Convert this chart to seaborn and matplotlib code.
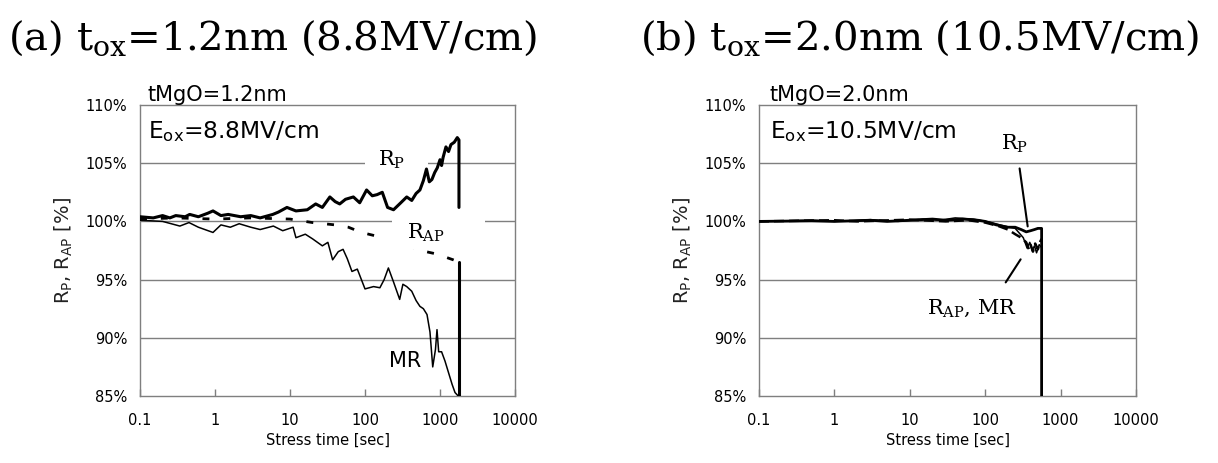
import numpy as np
import pandas as pd
import matplotlib
matplotlib.use("Agg")
import matplotlib.pyplot as plt
import seaborn as sns
from matplotlib.patches import Rectangle

# ---------------- data ----------------
# (a) tox = 1.2 nm
a_rp_t = [0.1, 0.15, 0.2, 0.25, 0.3, 0.4, 0.46, 0.6, 0.8, 0.94, 1.2, 1.5, 2.2, 3, 4, 5.9, 7, 9.1,
          12, 17, 22, 27, 34, 40, 46, 55, 70, 85, 105, 125, 145, 170, 200, 240, 300, 360, 420,
          480, 540, 600, 660, 720, 780, 850, 920, 1000, 1050, 1100, 1200, 1300, 1400, 1550,
          1700, 1790, 1790]
a_rp_v = [100.4, 100.3, 100.5, 100.3, 100.5, 100.4, 100.6, 100.4, 100.7, 100.9, 100.5, 100.6,
          100.4, 100.5, 100.3, 100.6, 100.8, 101.2, 100.9, 101.0, 101.5, 101.2, 102.1, 101.7,
          101.5, 101.9, 102.1, 101.6, 102.7, 102.2, 102.3, 102.5, 101.2, 101.0, 101.6, 102.1,
          101.8, 102.4, 102.7, 103.5, 104.5, 103.4, 103.6, 104.2, 104.6, 105.3, 104.8, 105.5,
          106.4, 106.0, 106.6, 106.8, 107.2, 107.0, 101.2]
a_rap_t = [0.1, 0.3, 1, 3, 10, 20, 40, 60, 90, 150, 650, 900, 1500, 1790]
a_rap_v = [100.2, 100.3, 100.2, 100.3, 100.2, 99.9, 99.7, 99.5, 99.05, 98.7, 97.4, 97.2, 96.7,
           96.5]
a_rap_bd_t = [1790, 1790]          # breakdown drop of R_AP
a_rap_bd_v = [96.5, 85.0]
a_mr_t = [0.1, 0.2, 0.34, 0.45, 0.6, 0.94, 1.2, 1.6, 2.1, 3, 4, 6, 8, 11, 12, 16, 20, 27, 32,
          37, 44, 51, 58, 67, 79, 100, 130, 158, 180, 205, 240, 290, 320, 360, 420, 480, 540,
          600, 671, 735, 800, 870, 912, 960, 1050, 1166, 1300, 1450, 1585, 1750]
a_mr_v = [100.1, 100.0, 99.6, 99.9, 99.5, 99.05, 99.7, 99.5, 99.8, 99.5, 99.3, 99.6, 99.2, 99.5,
          98.6, 98.9, 98.5, 97.9, 98.2, 96.7, 97.4, 97.6, 96.8, 95.7, 95.9, 94.2, 94.4, 94.3,
          95.0, 96.0, 94.8, 93.3, 94.6, 94.4, 94.0, 93.2, 92.7, 92.5, 92.0, 90.5, 87.5, 89.0,
          90.7, 88.8, 88.8, 88.0, 87.0, 86.0, 85.3, 85.0]

# (b) tox = 2.0 nm
b_rp_t = [0.1, 0.5, 1, 3, 5, 10, 20, 30, 50, 80, 100, 140, 200, 250, 300, 350, 400, 450, 500,
          560, 560]
b_rp_v = [100.0, 100.05, 100.0, 100.1, 100.0, 100.1, 100.2, 100.1, 100.2, 100.1, 100.0, 99.7,
          99.5, 99.5, 99.3, 99.1, 99.2, 99.3, 99.4, 99.4, 85.0]
b_rap_t = [0.1, 1, 2, 10, 30, 60, 100, 150, 200, 250, 300, 350, 380, 400, 430, 460, 500, 540, 560]
b_rap_v = [100.0, 100.1, 100.0, 100.15, 100.0, 100.1, 99.9, 99.6, 99.3, 98.9, 98.6, 98.2, 97.6,
           98.0, 97.4, 98.1, 97.6, 98.3, 98.5]
b_mr_t = [0.1, 0.5, 1, 3, 7, 15, 25, 40, 70, 120, 180, 250, 320, 360, 390, 420, 450, 480, 520, 550]
b_mr_v = [100.0, 100.1, 100.0, 100.15, 100.0, 100.2, 100.1, 100.3, 100.2, 99.9, 99.6, 99.4, 98.6,
          97.7, 98.2, 97.5, 97.9, 97.3, 98.0, 97.8]

y_ticks = [85, 90, 95, 100, 105, 110]
y_tick_labels = ["85%", "90%", "95%", "100%", "105%", "110%"]
x_ticks = [0.1, 1, 10, 100, 1000, 10000]
x_tick_labels = ["0.1", "1", "10", "100", "1000", "10000"]

titles = [r"(a) t$_{\mathregular{ox}}$=1.2nm (8.8MV/cm)",
          r"(b) t$_{\mathregular{ox}}$=2.0nm (10.5MV/cm)"]
tmgo = ["tMgO=1.2nm", "tMgO=2.0nm"]
eox = [r"E$_{\mathregular{ox}}$=8.8MV/cm", r"E$_{\mathregular{ox}}$=10.5MV/cm"]

# ---------------- figure ----------------
sns.set_style("white")
plt.rcParams["font.family"] = ["DejaVu Sans"]
plt.rcParams["mathtext.default"] = "regular"
plt.rcParams["text.color"] = "black"
plt.rcParams["axes.labelcolor"] = "black"
plt.rcParams["xtick.color"] = "black"
plt.rcParams["ytick.color"] = "black"

fig = plt.figure(figsize=(12.18, 4.63), dpi=100)
axa = fig.add_axes([140 / 1218, 1 - 396 / 463, 375 / 1218, 291 / 463])
axb = fig.add_axes([759 / 1218, 1 - 396 / 463, 377 / 1218, 291 / 463])

gray = "#7f7f7f"

def style_axis(ax):
    ax.set_xscale("log")
    ax.set_xlim(0.1, 10000)
    ax.set_ylim(85, 110)
    ax.set_yticks(y_ticks)
    ax.set_yticklabels(y_tick_labels)
    ax.set_xticks(x_ticks)
    ax.set_xticklabels(x_tick_labels)
    ax.minorticks_off()
    ax.tick_params(axis="x", direction="in", length=5, width=1, color=gray,
                   labelsize=10.5, pad=12, bottom=True)
    ax.tick_params(axis="y", length=0, labelsize=10.5, pad=9)
    for s in ax.spines.values():
        s.set_color(gray)
        s.set_linewidth(1.0)
        s.set_visible(True)
    for yv in [90, 95, 100, 105]:
        ax.axhline(yv, color=gray, lw=1.0, zorder=1)
    ax.set_xlabel("Stress time [sec]", fontsize=10.5, labelpad=4)
    ax.set_ylabel(r"R$_{\mathregular{P}}$, R$_{\mathregular{AP}}$ [%]", fontsize=14, labelpad=8,
                  color="#222222")

for ax in (axa, axb):
    style_axis(ax)

# panel (a) lines
sns.lineplot(x=a_mr_t, y=a_mr_v, ax=axa, color="black", linewidth=1.1, sort=False,
             estimator=None, zorder=3)
sns.lineplot(x=a_rap_t, y=a_rap_v, ax=axa, color="black", linewidth=2.0, sort=False,
             estimator=None, linestyle=(0, (2.5, 5)), zorder=3)
sns.lineplot(x=a_rap_bd_t, y=a_rap_bd_v, ax=axa, color="black", linewidth=2.2, sort=False,
             estimator=None, zorder=3)
sns.lineplot(x=a_rp_t, y=a_rp_v, ax=axa, color="black", linewidth=2.2, sort=False,
             estimator=None, zorder=4)

# panel (b) lines
sns.lineplot(x=b_mr_t, y=b_mr_v, ax=axb, color="black", linewidth=1.1, sort=False,
             estimator=None, zorder=3)
sns.lineplot(x=b_rap_t, y=b_rap_v, ax=axb, color="black", linewidth=1.8, sort=False,
             estimator=None, linestyle=(0, (4, 2)), zorder=3)
sns.lineplot(x=b_rp_t, y=b_rp_v, ax=axb, color="black", linewidth=2.0, sort=False,
             estimator=None, zorder=4)

# white label backgrounds (panel a), gaps in grid / hidden trace behind labels
axa.add_patch(Rectangle((100, 104.6), 590, 0.8, facecolor="white", edgecolor="none", zorder=2))
axa.add_patch(Rectangle((229, 99.6), 3750, 0.8, facecolor="white", edgecolor="none", zorder=2))
axa.add_patch(Rectangle((165, 97.6), 450, 2.0, facecolor="white", edgecolor="none", zorder=4.5))

# labels panel a
axa.text(229, 105.25, r"R$_{\mathregular{P}}$", family="DejaVu Serif", fontsize=15,
         ha="center", va="center", zorder=5)
axa.text(650, 99.05, r"R$_{\mathregular{AP}}$", family="DejaVu Serif", fontsize=15,
         ha="center", va="center", zorder=5)
axa.text(341, 88.0, "MR", fontsize=15, ha="center", va="center", zorder=5)

# labels panel b
axb.text(246, 106.7, r"R$_{\mathregular{P}}$", family="DejaVu Serif", fontsize=15,
         ha="center", va="center", zorder=5)
axb.plot([286, 366], [104.55, 99.57], color="black", lw=1.5, zorder=5)
axb.text(66, 92.5, r"R$_{\mathregular{AP}}$, MR", family="DejaVu Serif", fontsize=15,
         ha="center", va="center", zorder=5)
axb.plot([187, 295], [94.76, 96.74], color="black", lw=1.5, zorder=5)

# in-plot texts
for ax, t1, t2, xo in ((axa, tmgo[0], eox[0], 0.021), (axb, tmgo[1], eox[1], 0.029)):
    ax.text(xo, 1.015, t1, transform=ax.transAxes, fontsize=15, ha="left", va="baseline")
    ax.text(xo, 0.887, t2, transform=ax.transAxes, fontsize=16.8, ha="left", va="baseline")

# titles
fig.text(8 / 1218, 1 - 50 / 463, titles[0], family="DejaVu Serif", fontsize=29,
         ha="left", va="baseline")
fig.text(640 / 1218, 1 - 50 / 463, titles[1], family="DejaVu Serif", fontsize=29,
         ha="left", va="baseline")

fig.savefig("out.png", dpi=100)
